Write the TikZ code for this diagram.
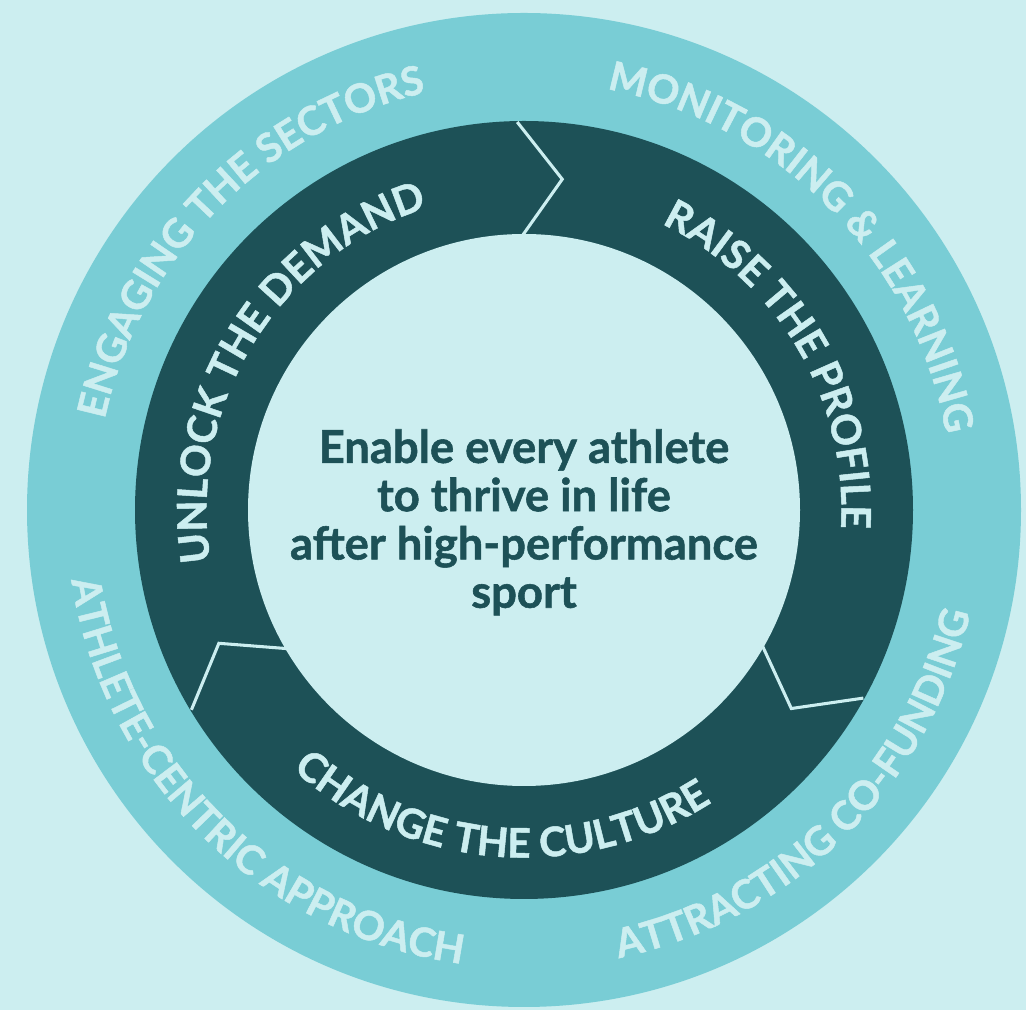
\documentclass[tikz,border=0pt]{standalone}
\usepackage{fontspec}
\setmainfont{Lato}[BoldFeatures={FakeBold=1.2}]
\usetikzlibrary{decorations.text}
\definecolor{bgc}{HTML}{CCEEF0}
\definecolor{ringc}{HTML}{79CDD5}
\definecolor{darkc}{HTML}{1D5157}
\newcommand\innerfmt{\bfseries\fontsize{30.5}{33}\selectfont}
\newcommand\outerfmt{\bfseries\fontsize{30}{33}\selectfont}
\begin{document}
\begin{tikzpicture}[x=0.75pt,y=0.75pt,
  sep/.style={draw=bgc,line width=2.3pt,line join=miter},
  innerlbl/.style={decorate,decoration={text along path,text={|\innerfmt|#1},text align=center,text color=bgc}},
  outerlbl/.style={decorate,decoration={text along path,text={|\outerfmt|#1},text align=center,text color=bgc}},
  goalstyle/.style={text=darkc,font=\bfseries\fontsize{34}{36.2}\selectfont,align=center,inner sep=0pt}]
\useasboundingbox (0,0) rectangle (1026,1010);
\fill[bgc] (0,0) rectangle (1026,1010);
\coordinate (C) at (524,500);
\fill[ringc] (C) circle[radius=497];
\fill[darkc] (C) circle[radius=389];
% chevron separators
\path (C) ++(91:388) coordinate (a1) (C) ++(83.4:333) coordinate (a2) (C) ++(91:270) coordinate (a3);
\path (C) ++(-29:388) coordinate (b1) (C) ++(-36.6:333) coordinate (b2) (C) ++(-29:270) coordinate (b3);
\path (C) ++(211:388) coordinate (c1) (C) ++(203.6:333) coordinate (c2) (C) ++(211:270) coordinate (c3);
\draw[sep] (a1) -- (a2) -- (a3);
\draw[sep] (b1) -- (b2) -- (b3);
\draw[sep] (c1) -- (c2) -- (c3);
\fill[bgc] (C) circle[radius=276];
% inner ring labels
\path[innerlbl={UNLOCK THE DEMAND}] (C) ++(218.5:317.5) arc[start angle=218.5,end angle=78.5,radius=317.5];
\path[innerlbl={RAISE THE PROFILE}] (C) ++(100.5:317.5) arc[start angle=100.5,end angle=-39.5,radius=317.5];
\path[innerlbl={CHANGE THE CULTURE}] (C) ++(195.5:347.5) arc[start angle=195.5,end angle=335.5,radius=347.5];
% outer ring labels
\path[outerlbl={ENGAGING THE SECTORS}] (C) ++(205.5:429) arc[start angle=205.5,end angle=65.5,radius=429];
\path[outerlbl={MONITORING {\&} LEARNING}] (C) ++(114.5:429) arc[start angle=114.5,end angle=-25.5,radius=429];
\path[outerlbl={ATTRACTING CO-FUNDING}] (C) ++(244.5:458) arc[start angle=244.5,end angle=384.5,radius=458];
\path[outerlbl={ATHLETE-CENTRIC APPROACH}] (C) ++(155.5:458) arc[start angle=155.5,end angle=295.5,radius=458];
% centre
\node[goalstyle,anchor=north] (goal) at (524,581) {Enable every athlete\\to thrive in life\\after high-performance\\sport};
\end{tikzpicture}
\end{document}
